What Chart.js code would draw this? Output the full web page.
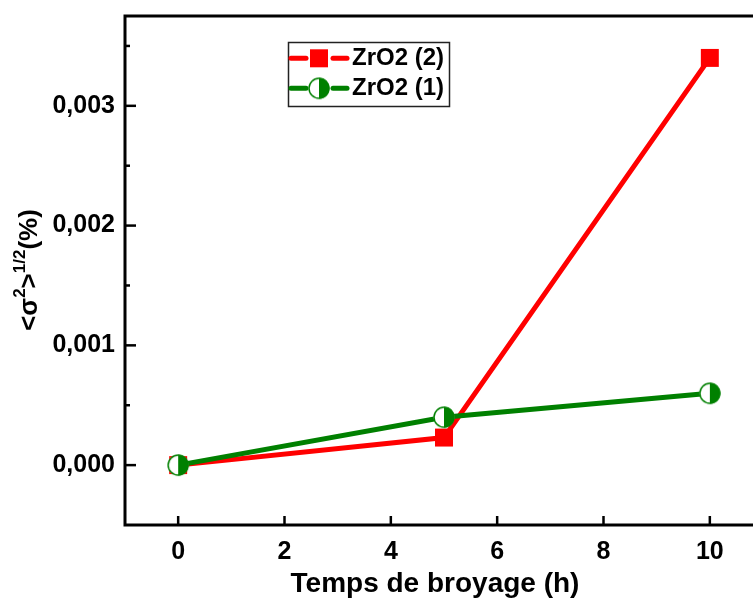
<!DOCTYPE html>
<html><head><meta charset="utf-8">
<script src="https://cdn.jsdelivr.net/npm/chart.js@4/dist/chart.umd.min.js"></script>
<style>html,body{margin:0;padding:0;background:#fff;overflow:hidden;}#wrap{width:780px;height:601px;}</style>
</head><body><div id="wrap"><canvas id="c" width="780" height="601"></canvas></div>
<script>
// ---- data ----
const timesH = [0, 5, 10];
const zro2_2 = [0.0, 0.00023, 0.0034];
const zro2_1 = [0.0, 0.0004, 0.0006];
const seriesLabels = ['ZrO2 (2)', 'ZrO2 (1)'];
const xTickValues = [0, 2, 4, 6, 8, 10];
const yTickValues = [0, 0.001, 0.002, 0.003];
const yMinorStep = 0.0005;
const xTitle = 'Temps de broyage (h)';
const yTitleParts = [['<σ', false], ['2', true], ['>', false], ['1/2', true], ['(%)', false]];

const FONT = '"Liberation Sans", Arial, sans-serif';
const RED = '#ff0000', GREEN = '#008000';

function halfCircle(r, color) {
  const s = Math.ceil(2 * r + 3);
  const c = document.createElement('canvas');
  c.width = s; c.height = s;
  const g = c.getContext('2d');
  const cx = s / 2;
  g.fillStyle = '#fff'; g.beginPath(); g.arc(cx, cx, r, 0, 2 * Math.PI); g.fill();
  g.fillStyle = color; g.beginPath(); g.moveTo(cx, cx); g.arc(cx, cx, r, -Math.PI / 2, Math.PI / 2); g.closePath(); g.fill();
  g.strokeStyle = color; g.lineWidth = 1.5; g.beginPath(); g.arc(cx, cx, r - 0.5, 0, 2 * Math.PI); g.stroke();
  return c;
}
const greenMarker = halfCircle(10.5, GREEN);

const datasets = [
  {
    label: seriesLabels[0],
    data: timesH.map((x, i) => ({ x: x, y: zro2_2[i] })),
    borderColor: RED, backgroundColor: RED, borderWidth: 5,
    pointStyle: 'rect', pointRadius: 12.7, pointBorderWidth: 0, pointBackgroundColor: RED,
    tension: 0, order: 1
  },
  {
    label: seriesLabels[1],
    data: timesH.map((x, i) => ({ x: x, y: zro2_1[i] })),
    borderColor: GREEN, backgroundColor: GREEN, borderWidth: 5,
    pointStyle: greenMarker, pointRadius: 11, tension: 0, order: 0
  }
];

function line(ctx, x1, y1, x2, y2) { ctx.beginPath(); ctx.moveTo(x1, y1); ctx.lineTo(x2, y2); ctx.stroke(); }

const decorations = {
  id: 'decorations',
  afterDraw(chart) {
    const { ctx, chartArea: a, scales: { x, y } } = chart;
    ctx.save();
    ctx.strokeStyle = '#000';
    ctx.lineWidth = 3;
    ctx.strokeRect(a.left, a.top, a.right - a.left, a.bottom - a.top);
    ctx.lineWidth = 2.5;
    // inward major ticks
    y.ticks.forEach(t => { const py = y.getPixelForValue(t.value); line(ctx, a.left, py, a.left + 11, py); });
    x.ticks.forEach(t => { const px = x.getPixelForValue(t.value); line(ctx, px, a.bottom, px, a.bottom - 9); });
    // minor y ticks
    for (let k = Math.ceil(y.min / yMinorStep); k * yMinorStep <= y.max + 1e-12; k++) {
      const v = k * yMinorStep;
      if (yTickValues.some(m => Math.abs(m - v) < 1e-9)) continue;
      const py = y.getPixelForValue(v);
      if (py >= a.bottom - 2 || py <= a.top + 2) continue;
      line(ctx, a.left, py, a.left + 5, py);
    }
    // x title
    ctx.fillStyle = '#000';
    ctx.font = 'bold 28px ' + FONT;
    ctx.textAlign = 'center'; ctx.textBaseline = 'alphabetic';
    ctx.fillText(chart.options.scales.x.title.text, 435, 592);
    // y title (rotated, with superscripts)
    const big = 'bold 26px ' + FONT, small = 'bold 17px ' + FONT;
    let total = 0;
    yTitleParts.forEach(([t, sup]) => { ctx.font = sup ? small : big; total += ctx.measureText(t).width; });
    ctx.translate(37, 270);
    ctx.rotate(-Math.PI / 2);
    ctx.textAlign = 'left';
    let px = -total / 2;
    yTitleParts.forEach(([t, sup]) => {
      ctx.font = sup ? small : big;
      ctx.fillText(t, px, sup ? -12 : 0);
      px += ctx.measureText(t).width;
    });
    ctx.restore();

    // legend
    ctx.save();
    ctx.strokeStyle = '#222'; ctx.lineWidth = 1.5;
    ctx.strokeRect(288.5, 42.5, 161, 64);
    const rows = [58.3, 88.3];
    chart.data.datasets.forEach((ds, i) => {
      const yy = rows[i];
      ctx.strokeStyle = ds.borderColor; ctx.lineWidth = 5; ctx.lineCap = 'round';
      line(ctx, 291, yy, 306, yy);
      line(ctx, 333, yy, 347, yy);
      if (ds.pointStyle === 'rect') {
        ctx.fillStyle = ds.borderColor; ctx.fillRect(310, yy - 9, 18, 18);
      } else {
        ctx.drawImage(ds.pointStyle, 319 - ds.pointStyle.width / 2, yy - ds.pointStyle.height / 2);
      }
      ctx.fillStyle = '#000'; ctx.font = 'bold 24px ' + FONT;
      ctx.textAlign = 'left'; ctx.textBaseline = 'alphabetic';
      ctx.fillText(ds.label, 352, yy + 7);
    });
    ctx.restore();
  }
};

new Chart(document.getElementById('c'), {
  type: 'line',
  data: { datasets: datasets },
  options: {
    responsive: false, animation: false, devicePixelRatio: 1,
    layout: { padding: { top: 12, right: 17, bottom: 0, left: 0 } },
    plugins: { legend: { display: false }, tooltip: { enabled: false } },
    scales: {
      x: {
        type: 'linear', min: -1, max: 11,
        afterBuildTicks: s => { s.ticks = xTickValues.map(v => ({ value: v })); },
        afterFit: s => { s.height = 76; s.paddingLeft = 0; s.paddingRight = 0; },
        grid: { display: false, drawTicks: false }, border: { display: false },
        title: { display: false, text: xTitle },
        ticks: { color: '#000', padding: 12, autoSkip: false, maxRotation: 0, font: { family: FONT, size: 25, weight: 'bold' } }
      },
      y: {
        type: 'linear', min: -0.0005, max: 0.00375,
        afterBuildTicks: s => { s.ticks = yTickValues.map(v => ({ value: v })); },
        afterFit: s => { s.width = 125; s.paddingTop = 0; s.paddingBottom = 0; },
        grid: { display: false, drawTicks: false }, border: { display: false },
        ticks: { color: '#000', padding: 10, font: { family: FONT, size: 25, weight: 'bold' },
          callback: v => v.toFixed(3).replace('.', ',') }
      }
    }
  },
  plugins: [decorations]
});
</script></body></html>
